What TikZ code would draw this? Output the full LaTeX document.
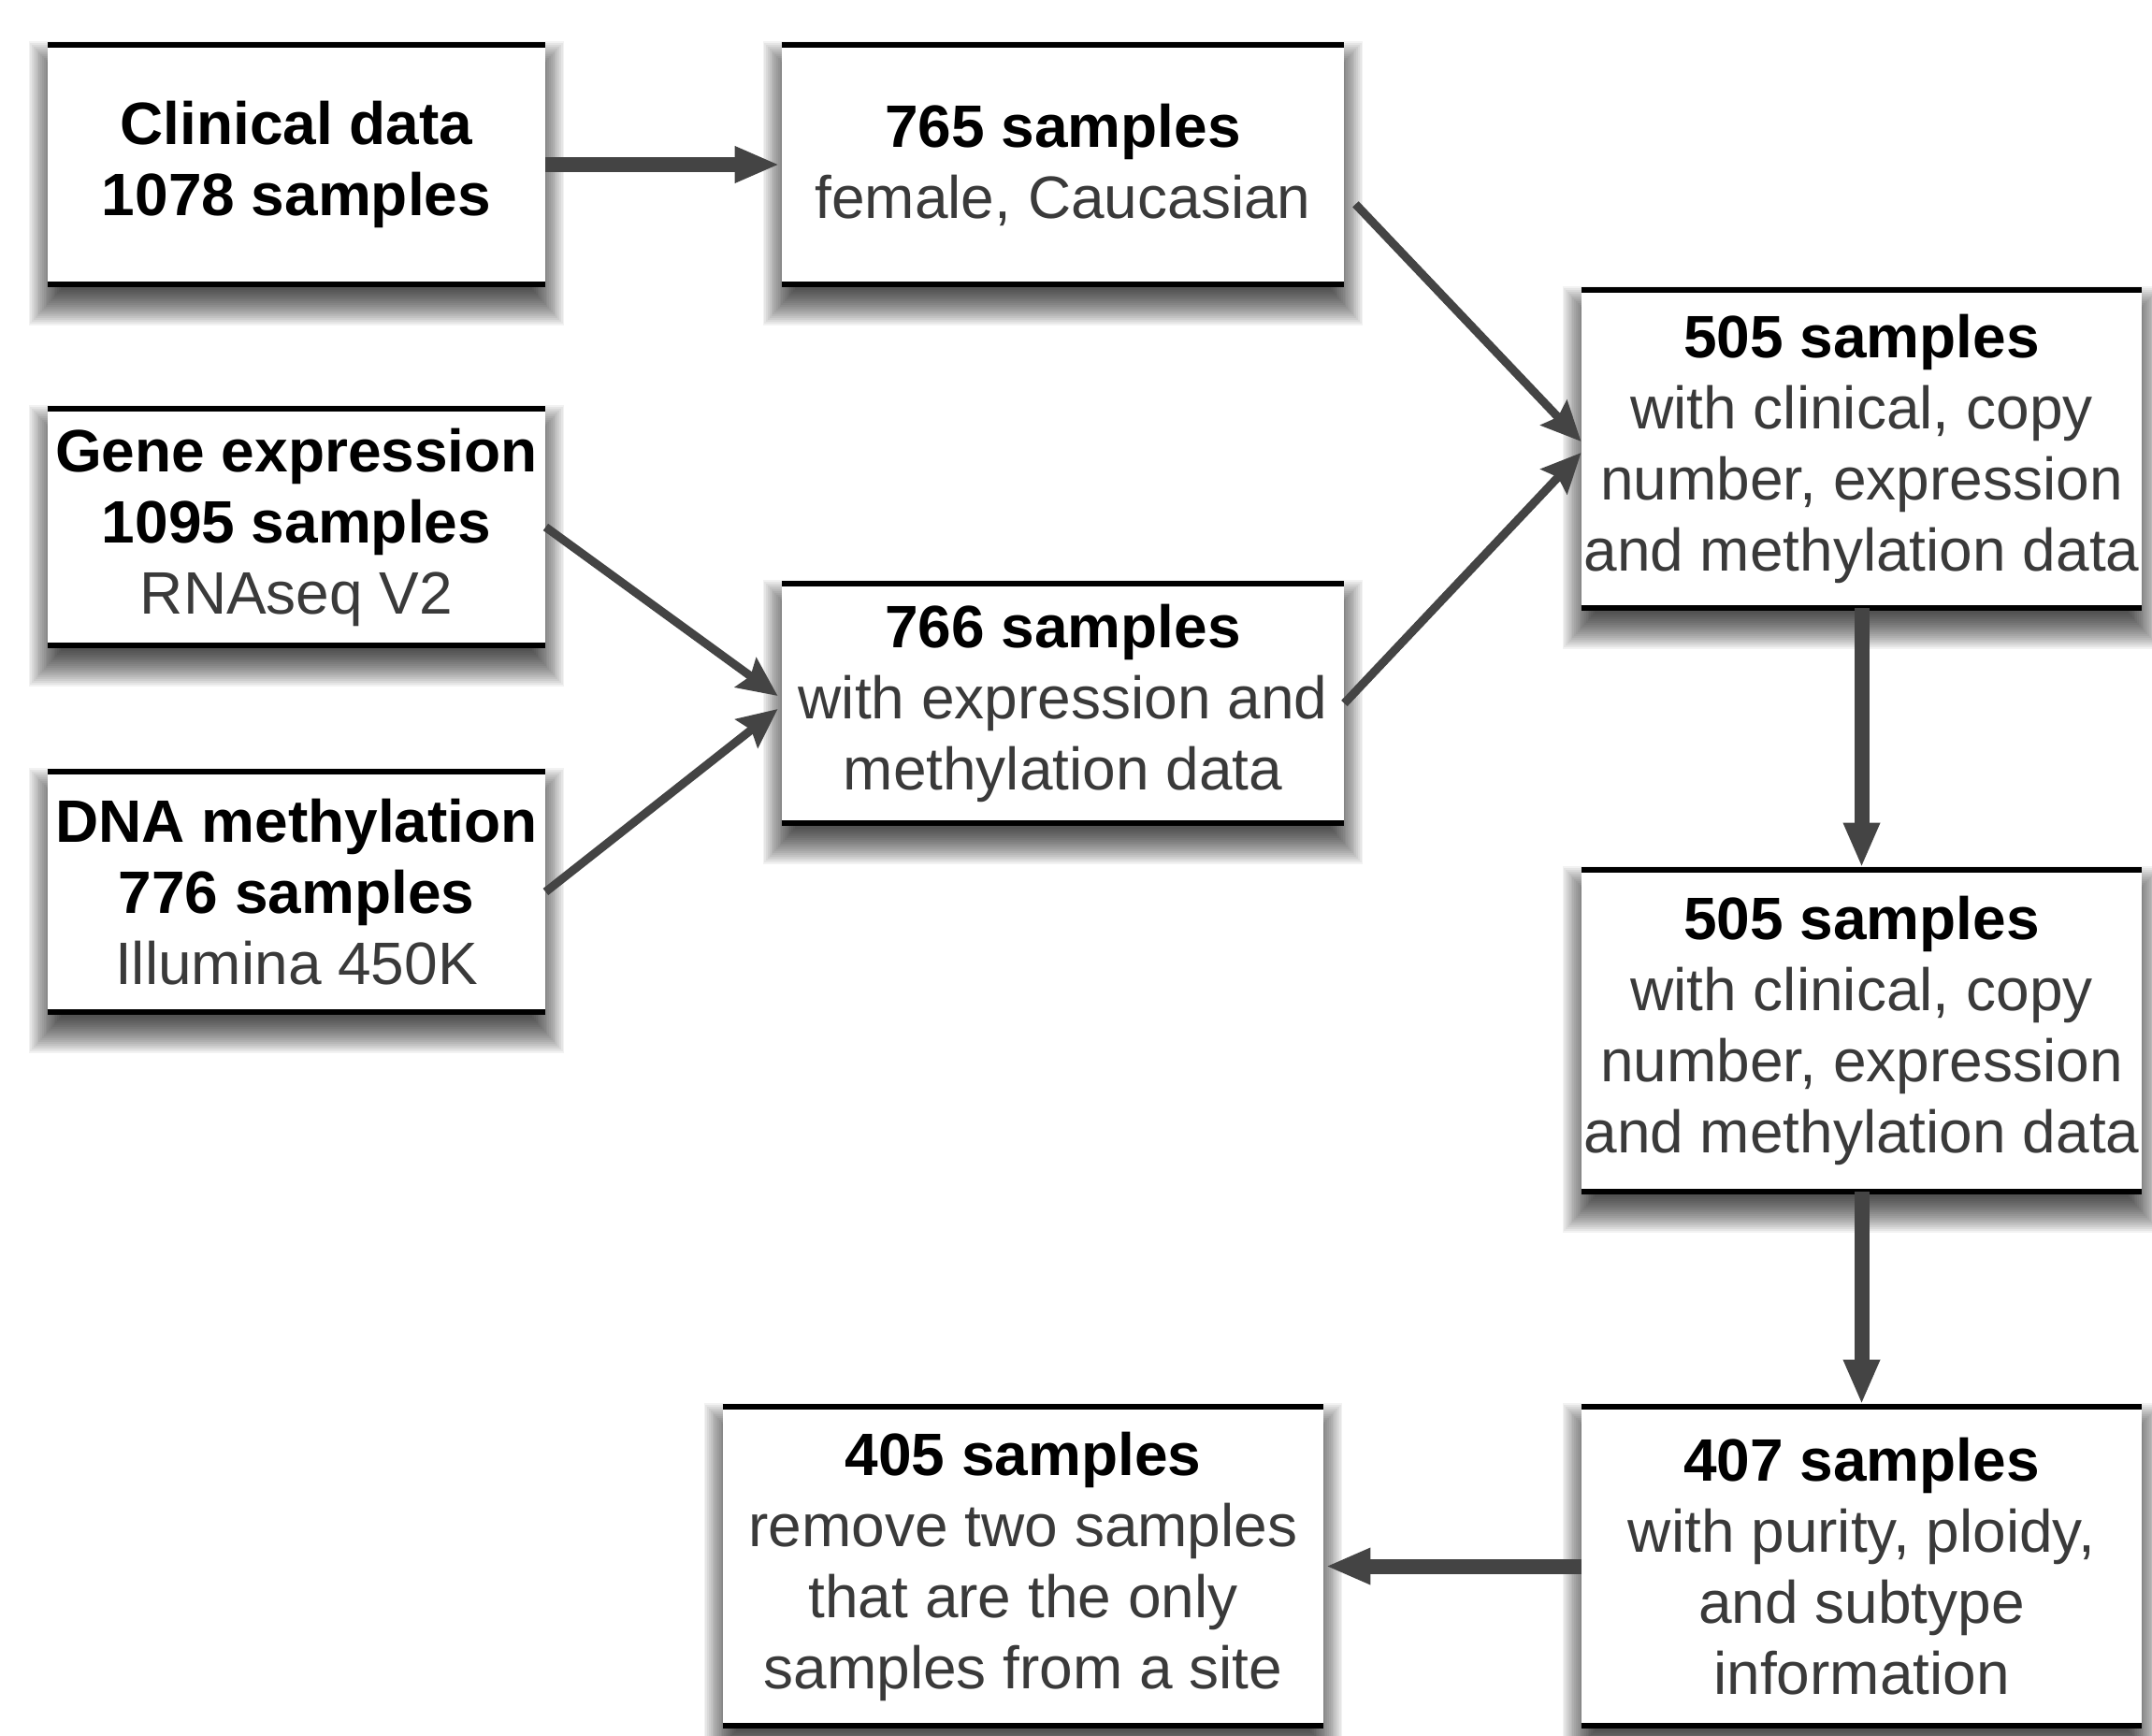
\documentclass[tikz,border=0pt]{standalone}
\usepackage{fontspec}
\setmainfont{Liberation Sans}
\usetikzlibrary{arrows.meta,calc}
\pgfdeclarelayer{canvasbg}
\pgfdeclarelayer{background}
\pgfsetlayers{canvasbg,background,main}
\definecolor{arrowgray}{RGB}{68,68,68}
\definecolor{txtgray}{RGB}{58,58,58}
\newcommand{\boldline}[1]{\textbf{\textcolor{black}{#1}}}
\tikzset{
 box/.style={rectangle, fill=white, inner sep=0pt, align=center, text=txtgray,
   font=\fontsize{32}{38}\selectfont},
 rulebar/.style={line width=3pt, black},
 shadowlayer/.style={black, opacity=0.05},
 bigarrow/.style={arrowgray, line width=8pt, shorten >=1pt, -{Triangle[length=24pt,width=18pt]}},
 diagarrow/.style={arrowgray, line width=4.5pt, -{Stealth[length=21pt,width=19pt,inset=3pt]}},
}
\begin{document}
\begin{tikzpicture}[x=1pt,y=-1pt]
\useasboundingbox (0,0) rectangle (1150.5,928);
\begin{pgfonlayer}{canvasbg}
\fill[white] (0,0) rectangle (1150.5,928);
\end{pgfonlayer}
\node[box, minimum width=266pt, minimum height=128pt] (A) at (158.5,88)
  {\boldline{Clinical data}\\\boldline{1078 samples}};
\node[box, minimum width=300.5pt, minimum height=128pt] (B) at (568.25,88)
  {\boldline{765 samples}\\female, Caucasian};
\node[box, minimum width=266pt, minimum height=126.5pt] (C) at (158.5,281.75)
  {\boldline{Gene expression}\\\boldline{1095 samples}\\RNAseq V2};
\node[box, minimum width=266pt, minimum height=128.5pt] (D) at (158.5,476.75)
  {\boldline{DNA methylation}\\\boldline{776 samples}\\Illumina 450K};
\node[box, minimum width=300.5pt, minimum height=128pt] (E) at (568.25,376)
  {\boldline{766 samples}\\with expression and\\methylation data};
\node[box, minimum width=299.5pt, minimum height=170pt] (F) at (995.25,240)
  {\boldline{505 samples}\\with clinical, copy\\number, expression\\and methylation data};
\node[box, minimum width=299.5pt, minimum height=172pt] (G) at (995.25,551)
  {\boldline{505 samples}\\with clinical, copy\\number, expression\\and methylation data};
\node[box, minimum width=299.5pt, minimum height=170.5pt] (H) at (995.25,837.25)
  {\boldline{407 samples}\\with purity, ploidy,\\and subtype\\information};
\node[box, minimum width=321pt, minimum height=170.5pt] (I) at (547,837.25)
  {\boldline{405 samples}\\remove two samples\\that are the only\\samples from a site};
\begin{pgfonlayer}{background}
\foreach \n in {A,B,C,D,E,F,G,H,I}
  \foreach \k in {1,...,20}
    \fill[shadowlayer]
      ([xshift={-(0.9*\k-8)*1pt}, yshift={(\k-18)*1pt}]\n.north west)
      rectangle
      ([xshift={(0.9*\k-8)*1pt}, yshift={-(\k+2)*1pt}]\n.south east);
\end{pgfonlayer}
\foreach \n in {A,B,C,D,E,F,G,H,I}
  \draw[rulebar] (\n.north west) -- (\n.north east) (\n.south west) -- (\n.south east);
\draw[bigarrow] (A.east) -- (B.west);
\draw[diagarrow] ([xshift=6pt]B.-8.5) -- ([yshift=4pt]F.west);
\draw[diagarrow] (E.east) -- ([yshift=-2pt]F.west);
\draw[diagarrow] (C.east) -- ([xshift=-2pt,yshift=4pt]E.west);
\draw[diagarrow] (D.east) -- ([xshift=-2pt,yshift=-3pt]E.west);
\draw[bigarrow] (F.south) -- (G.north);
\draw[bigarrow] (G.south) -- (H.north);
\draw[bigarrow] (H.west) -- (I.east);
\end{tikzpicture}
\end{document}
